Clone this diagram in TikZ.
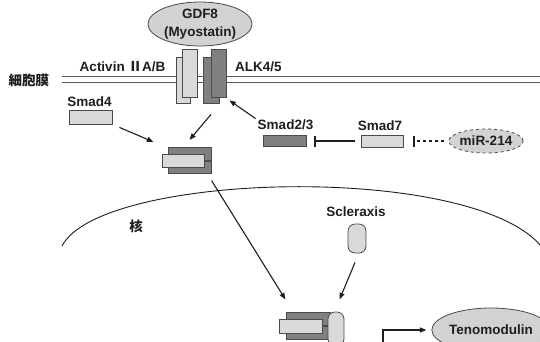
\documentclass[tikz,border=0pt]{standalone}
\usepackage{fontspec}
\setmainfont{Liberation Sans}
\newfontfamily\jpfont{Noto Sans CJK JP}
\usetikzlibrary{arrows.meta,calc,fit,shapes.geometric}

\definecolor{lightfill}{HTML}{D9D9D9}
\definecolor{darkfill}{HTML}{808080}
\definecolor{ovalfill}{HTML}{D2D2D2}
\definecolor{edgegray}{HTML}{4A4A4A}
\definecolor{memgray}{HTML}{5A5A5A}
\definecolor{inkcol}{HTML}{1E1E1E}

\begin{document}
\begin{tikzpicture}[x=1pt,y=-1pt,
  lbl/.style={font=\fontsize{13.5}{16}\selectfont\bfseries, inner sep=0pt, text=inkcol},
  jlbl/.style={font=\jpfont\bfseries\fontsize{13.5}{16}\selectfont, inner sep=0pt, text=inkcol},
  light/.style={draw=edgegray, fill=lightfill, line width=0.8pt, inner sep=0pt},
  dark/.style={draw=edgegray, fill=darkfill, line width=0.8pt, inner sep=0pt},
  oval/.style={ellipse, draw=edgegray, fill=ovalfill, line width=0.8pt, inner sep=0pt},
  capsule/.style={draw=edgegray, fill=lightfill, line width=0.8pt, rounded corners=7pt},
  arr/.style={-{Triangle[length=6.5pt,width=5pt]}, line width=1.1pt, draw=inkcol},
  inh/.style={-{Bar[width=11pt,line width=1.1pt]}, line width=1.1pt, draw=inkcol},
  memline/.style={line width=1pt, draw=memgray},
]
\useasboundingbox (0,0) rectangle (540,341);
\clip (0,0) rectangle (540,341);

% cell membrane
\draw[memline] (62,76.5) -- (541,76.5);
\draw[memline] (62,82) -- (541,82);
\node[jlbl] (memlbl) at (29,80) {細胞膜};

% receptors: Activin type II (light) and ALK4/5 (dark)
\node[light, minimum width=14pt, minimum height=46pt] (actB) at (183,80) {};
\node[light, minimum width=15pt, minimum height=48pt] (actF) at (189.5,73) {};
\node[dark, minimum width=16pt, minimum height=46pt] (alkB) at (211,80) {};
\node[dark, minimum width=15pt, minimum height=48pt] (alkF) at (218.5,73) {};
\node[lbl] (actlbl) at (122.5,66.5) {Activin {\jpfont\bfseries Ⅱ}A/B};
\node[lbl] (alklbl) at (258.5,66.5) {ALK4/5};

% ligand
\node[oval, minimum width=104pt, minimum height=44pt, align=center,
      font=\fontsize{13.5}{18}\selectfont\bfseries, text=inkcol] (gdf) at (200,24) {GDF8\\(Myostatin)};

% cytoplasmic Smads
\node[light, minimum width=43pt, minimum height=14pt] (smad4) at (90.5,117) {};
\node[lbl] (smad4lbl) at (89.5,102) {Smad4};
\node[dark, minimum width=43pt, minimum height=11pt] (smad23) at (284.5,140.5) {};
\node[lbl] (smad23lbl) at (285.5,125) {Smad2/3};
\node[light, minimum width=42pt, minimum height=12pt] (smad7) at (382,141) {};
\node[lbl] (smad7lbl) at (380,126) {Smad7};
\node[oval, dashed, minimum width=60pt, minimum height=24pt,
      font=\fontsize{13.5}{16}\selectfont\bfseries, text=inkcol] (mir) at (486,141) {miR-214};

% Smad2/3--Smad4 complex in the cytoplasm
\node[dark, minimum width=43pt, minimum height=13pt] (cAtop) at (189.5,154) {};
\node[dark, minimum width=43pt, minimum height=12pt] (cAbot) at (189.5,167) {};
\node[light, minimum width=42pt, minimum height=13pt] (cAmid) at (183,160.5) {};
\node[inner sep=0pt, fit=(cAtop)(cAbot)(cAmid)] (cplxA) {};

% nuclear envelope
\draw[line width=0.9pt, draw=inkcol] (62,246) .. controls (100,172) and (470,162) .. (541,246);
\node[jlbl] (nuclbl) at (136,226) {核};

% Scleraxis
\node[lbl] (scxlbl) at (356,212) {Scleraxis};
\node[capsule, minimum width=18pt, minimum height=29pt, inner sep=0pt] (scx) at (357,238.5) {};

% complex with Scleraxis in the nucleus
\node[dark, minimum width=44pt, minimum height=13pt] (cBtop) at (308,318.5) {};
\node[dark, minimum width=44pt, minimum height=13pt] (cBbot) at (308,332.5) {};
\node[light, minimum width=43pt, minimum height=14pt] (cBmid) at (300.5,326) {};
\node[capsule, minimum width=16pt, minimum height=34pt, inner sep=0pt] (cBscx) at (336,329) {};
\node[inner sep=0pt, fit=(cBtop)(cBbot)(cBmid)(cBscx)] (cplxB) {};

% target gene product
\node[oval, minimum width=102pt, minimum height=44pt,
      font=\fontsize{13.5}{16}\selectfont\bfseries, text=inkcol] (teno) at (491,330) {Tenomodulin};
\coordinate (tss) at (383,346);

% signalling arrows
\draw[arr] ($(smad4.south east)+(7,3)$) -- ($(cplxA.north west)+(-8,-5)$);
\draw[arr] ($(alkB.south)+(0,11)$) -- ($(cplxA.north)+(3,-7)$);
\draw[arr] ($(smad23.north west)+(-7,-16)$) -- ($(alkF.south east)+(3,3)$);
\draw[inh] ($(smad7.west)+(-6,0)$) -- ($(smad23.east)+(8,0.5)$);
\draw[inh, dashed] ($(mir.west)+(-4,0)$) -- ($(smad7.east)+(10,0)$);
\draw[arr] ($(cplxA.south east)+(0,7)$) -- ($(cplxB.north west)+(7,-12)$);
\draw[arr] ($(scx.south)+(-2,9)$) -- ($(cplxB.north east)+(-5,-12)$);
\draw[arr] (tss) |- ($(teno.west)+(-5,0)$);
\end{tikzpicture}
\end{document}
